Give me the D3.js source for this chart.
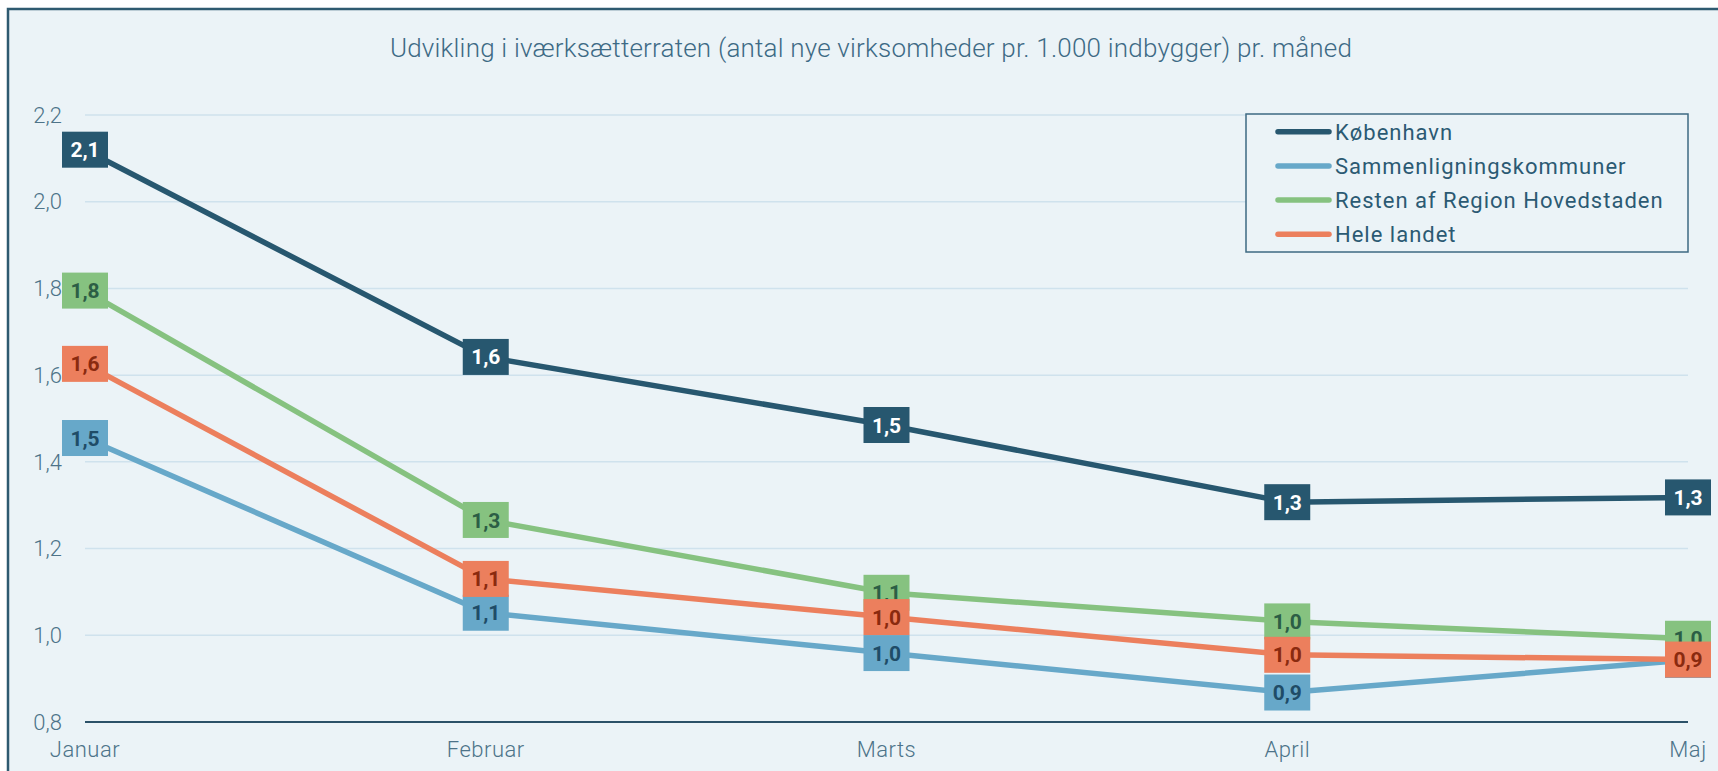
<!DOCTYPE html>
<html><head><meta charset="utf-8">
<script src="https://cdn.jsdelivr.net/npm/d3@7/dist/d3.min.js"></script>
<style>
html,body{margin:0;padding:0;background:#fff;}
svg{display:block;}
text{font-family:Roboto,"Noto Sans",sans-serif;}
</style></head>
<body>
<svg id="chart" width="1718" height="771"></svg>
<script>
const months = ["Januar", "Februar", "Marts", "April", "Maj"];
const seriesNames = ["København", "Sammenligningskommuner", "Resten af Region Hovedstaden", "Hele landet"];
const kobenhavn = [2.12, 1.642, 1.485, 1.307, 1.318];
const sammenligning = [1.455, 1.052, 0.959, 0.868, 0.943];
const resten = [1.795, 1.266, 1.098, 1.032, 0.992];
const heleLandet = [1.626, 1.130, 1.042, 0.955, 0.944];
const yTicks = [0.8, 1.0, 1.2, 1.4, 1.6, 1.8, 2.0, 2.2];
const titleText = "Udvikling i iværksætterraten (antal nye virksomheder pr. 1.000 indbygger) pr. måned";

const seriesValues = [kobenhavn, sammenligning, resten, heleLandet];
const lineColors = ["#27576f", "#67a8c9", "#86c280", "#ec7f5d"];
const labelTextColors = ["#ffffff", "#1f4c67", "#2c5e45", "#8a2a0f"];

const loc = d3.formatLocale({decimal: ",", thousands: ".", grouping: [3], currency: ["", " kr"]});
const fmt = loc.format(".1f");

const svg = d3.select("#chart");
// outer frame / background
svg.append("rect").attr("x", 8).attr("y", 9).attr("width", 1760).attr("height", 800)
  .attr("fill", "#ebf3f7").attr("stroke", "#2e5a70").attr("stroke-width", 2.5);

const x = d3.scalePoint().domain(months).range([85, 1688]);
const y = d3.scaleLinear().domain([0.8, 2.2]).range([722, 115]);

// gridlines
svg.append("g").selectAll("line").data(yTicks.filter(t => t > 0.8)).join("line")
  .attr("x1", 85).attr("x2", 1688)
  .attr("y1", d => y(d)).attr("y2", d => y(d))
  .attr("stroke", "#cfe2ed").attr("stroke-width", 1.5);

// y tick labels
svg.append("g").selectAll("text").data(yTicks).join("text")
  .attr("x", 62).attr("y", d => y(d)).attr("dy", "0.35em")
  .attr("text-anchor", "end")
  .attr("font-size", 22).attr("font-weight", 300)
  .attr("fill", "#4d7389")
  .text(d => fmt(d));

// x axis baseline
svg.append("line").attr("x1", 85).attr("x2", 1688).attr("y1", y(0.8)).attr("y2", y(0.8))
  .attr("stroke", "#2b5168").attr("stroke-width", 2);

// x tick labels
svg.append("g").selectAll("text").data(months).join("text")
  .attr("x", d => x(d)).attr("y", 757)
  .attr("text-anchor", "middle")
  .attr("font-size", 22).attr("font-weight", 300)
  .attr("letter-spacing", 0.5)
  .attr("fill", "#4d7389")
  .text(d => d);

// title
svg.append("text").attr("x", 871).attr("y", 57)
  .attr("text-anchor", "middle")
  .attr("font-size", 26).attr("font-weight", 300)
  .attr("letter-spacing", 0.2)
  .attr("fill", "#3d6a85")
  .text(titleText);

// lines
const line = d3.line().x((d, i) => x(months[i])).y(d => y(d));
svg.append("g").selectAll("path").data(seriesValues).join("path")
  .attr("d", d => line(d))
  .attr("fill", "none")
  .attr("stroke", (d, i) => lineColors[i])
  .attr("stroke-width", 5.5);

// labels
const bw = 46, bh = 36;
seriesValues.forEach((vals, si) => {
  const g = svg.append("g");
  const cells = g.selectAll("g").data(vals).join("g")
    .attr("transform", (d, i) => `translate(${x(months[i])},${y(d)})`);
  cells.append("rect").attr("x", -bw / 2).attr("y", -bh / 2).attr("width", bw).attr("height", bh)
    .attr("fill", lineColors[si]);
  cells.append("text").attr("text-anchor", "middle").attr("dy", "0.36em")
    .attr("font-size", 21).attr("font-weight", 700)
    .attr("fill", labelTextColors[si])
    .text(d => fmt(d));
});

// legend
const lg = svg.append("g");
lg.append("rect").attr("x", 1246).attr("y", 114).attr("width", 442).attr("height", 138)
  .attr("fill", "#ebf3f7").attr("stroke", "#3e6a82").attr("stroke-width", 1.5);
const rows = lg.selectAll("g.row").data(seriesNames).join("g").attr("class", "row")
  .attr("transform", (d, i) => `translate(0,${131.7 + i * 34.2})`);
rows.append("line").attr("x1", 1278).attr("x2", 1329).attr("y1", 0).attr("y2", 0)
  .attr("stroke", (d, i) => lineColors[i]).attr("stroke-width", 5.5).attr("stroke-linecap", "round");
rows.append("text").attr("x", 1335).attr("y", 0).attr("dy", "0.36em")
  .attr("font-size", 22).attr("font-weight", 400).attr("letter-spacing", 1.0)
  .attr("fill", "#2b5a73")
  .text(d => d);
</script>
</body></html>
